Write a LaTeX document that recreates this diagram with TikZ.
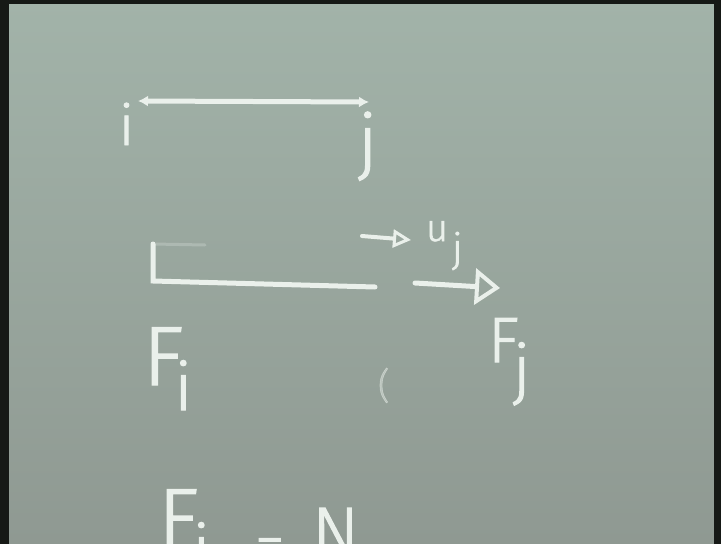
\documentclass[tikz,border=0pt]{standalone}
\usepackage{fontspec}
\setmainfont{Fira Sans}[UprightFont={* Light}, FakeBold=1.6]
\usetikzlibrary{arrows.meta}
\definecolor{boardtop}{HTML}{A2B3A9}
\definecolor{boardbot}{HTML}{8F9992}
\definecolor{chalk}{HTML}{EAF0EB}
\definecolor{frame}{HTML}{161916}
\newcommand{\fsz}[1]{\fontsize{#1}{#1}\selectfont}
\begin{document}
\begin{tikzpicture}[x=1pt,y=-1pt,
  chalkline/.style={draw=chalk, line width=5pt, line cap=round},
  chalktext/.style={text=chalk, inner sep=0pt, outer sep=0pt, anchor=base west},
  opentip/.style={-{Triangle[open, length=#1, width=#1, line width=3pt]}}
  ]
\useasboundingbox (0,0) rectangle (721,544);
\clip (0,0) rectangle (721,544);
\shade[top color=boardtop, bottom color=boardbot] (0,0) rectangle (721,544);
\fill[frame] (0,0) rectangle (9,544);
\fill[frame] (0,0) rectangle (721,4);
\fill[frame] (714,0) rectangle (721,544);

% top member i -- j
\coordinate (ti) at (138,101);
\coordinate (tj) at (369,102);
\draw[chalkline, {Latex[length=10pt,width=11pt]}-{Latex[length=10pt,width=11pt]}] (ti) -- (tj);
\node[chalktext] (i) at (119,145) {\fsz{56}i};
\node[chalktext] (j) at (358,166) {\fsz{72}j};

% lower member
\coordinate (mt) at (153,244);
\coordinate (ml) at (153,281);
\coordinate (mr) at (375,287);
\draw[chalk, opacity=0.25, line width=3pt, line cap=round] (mt) -- (205,245);
\draw[chalkline] (mt) -- (ml) -- (mr);

% displacement arrow u_j
\coordinate (ua) at (362,236);
\coordinate (ub) at (411,240);
\draw[chalkline, line width=4pt, opentip=18pt] (ua) -- (ub);
\node[chalktext] (uj) at (426,241) {\fsz{38}u\kern4pt\raisebox{-21pt}{\fsz{40}j}};

% force arrow F_j
\coordinate (ba) at (415,283);
\coordinate (bb) at (500,288);
\draw[chalkline, -{Triangle[open, length=25pt, width=36pt, line width=4pt]}] (ba) -- (bb);
\node[chalktext] (Fj) at (488,362) {\fsz{64}F\kern-6pt\raisebox{-30pt}{\fsz{66}j}};

% F_i
\node[chalktext] (Fi) at (143,385) {\fsz{84}F\kern-9pt\raisebox{-25pt}{\fsz{66}i}};

% faint mark
\node[chalktext, opacity=0.45] (mark) at (378,398) {\fsz{36}(};

% bottom equation (cut off by the frame of the photo)
\node[chalktext] (Fb) at (158,547) {\fsz{84}F\kern-6pt\raisebox{-25pt}{\fsz{66}i}};
\node[chalktext] (eq) at (255,565) {\fsz{60}=};
\node[chalktext] (Nb) at (312,556) {\fsz{70}N};
\end{tikzpicture}
\end{document}
